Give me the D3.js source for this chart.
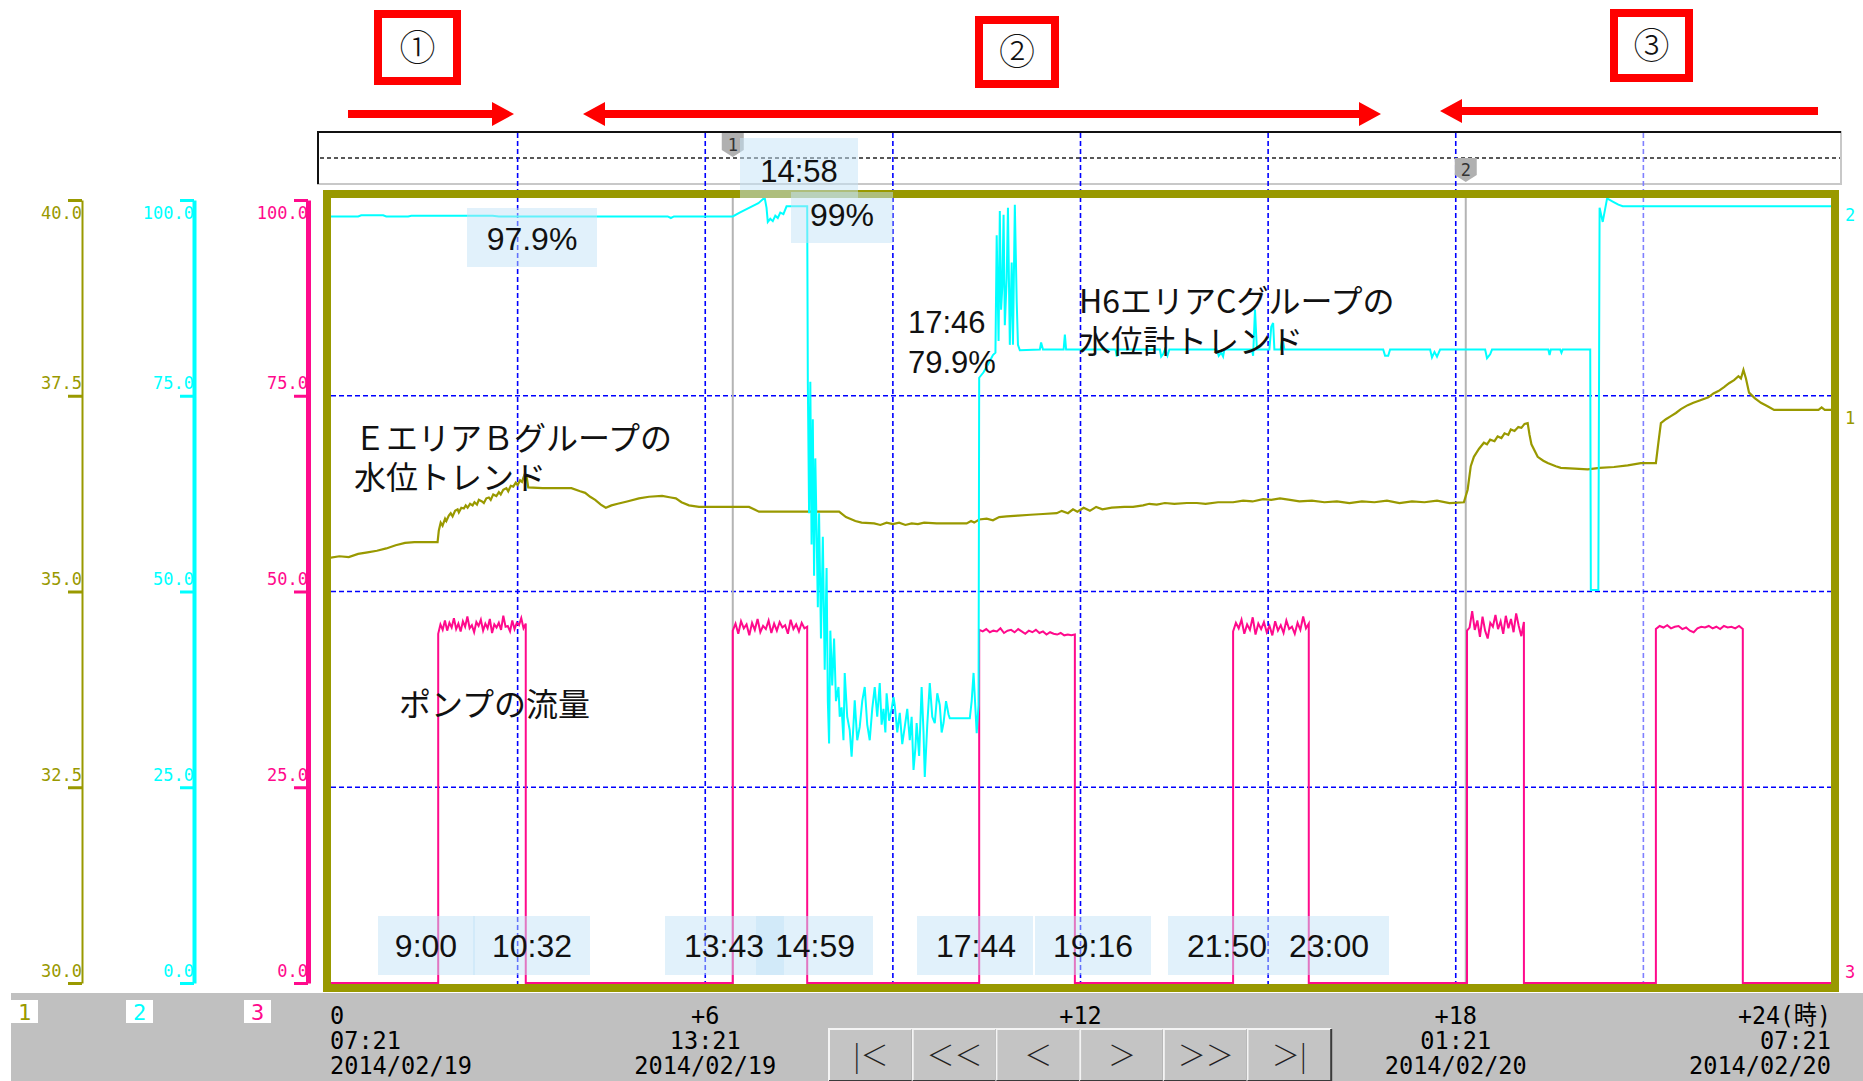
<!DOCTYPE html>
<html>
<head>
<meta charset="utf-8">
<script src="https://cdn.jsdelivr.net/npm/d3@7/dist/d3.min.js"></script>
<style>
body { margin: 0; background: #fff; }
svg { display: block; }
</style>
</head>
<body>
<div id="chart"></div>
<script>
// ---- data (hours after 07:21 on 2014/02/19) ----
var levelTicks = [30, 32.5, 35, 37.5, 40];
var pctTicks = [0, 25, 50, 75, 100];
var gridHours = [3, 6, 9, 12, 15, 18, 21];
var gridPct = [25, 50, 75];
var cursorHours = [6.44, 18.16];

// E area B group water level (left olive scale 30-40)
var levelB = [
[0,35.43],[0.15,35.45],[0.3,35.44],[0.45,35.48],[0.6,35.5],[0.75,35.52],[0.9,35.55],[1.05,35.59],[1.2,35.62],[1.35,35.63],[1.72,35.63],
[1.74,35.78],[1.77,35.88],[1.8,35.84],[1.84,35.93],[1.86,35.9],[1.9,35.97],[1.93,36.0],[1.96,35.96],[2.0,36.03],[2.04,36.05],[2.06,36.01],
[2.1,36.07],[2.14,36.06],[2.17,36.1],[2.2,36.07],[2.24,36.12],[2.28,36.1],[2.31,36.14],[2.35,36.11],[2.38,36.17],[2.43,36.15],[2.46,36.13],
[2.5,36.19],[2.54,36.2],[2.57,36.17],[2.61,36.24],[2.66,36.22],[2.7,36.27],[2.73,36.24],[2.77,36.3],[2.82,36.32],[2.85,36.28],[2.89,36.35],
[2.93,36.34],[2.97,36.39],[3.0,36.36],[3.04,36.42],[3.07,36.4],[3.1,36.47],[3.12,36.43],[3.14,36.49],[3.17,36.33],
[3.4,36.32],[3.86,36.32],[4.0,36.28],[4.08,36.26],[4.16,36.21],[4.24,36.17],[4.33,36.11],[4.41,36.07],[4.5,36.1],[4.6,36.12],[4.75,36.15],
[4.94,36.19],[5.1,36.21],[5.31,36.22],[5.45,36.2],[5.53,36.19],[5.62,36.14],[5.74,36.1],[5.9,36.08],[6.06,36.08],[6.7,36.08],[6.86,36.02],
[8.14,36.02],[8.25,35.95],[8.4,35.9],[8.5,35.88],[8.7,35.87],[8.8,35.85],[8.9,35.88],[9.0,35.86],[9.1,35.88],[9.2,35.85],[9.3,35.87],
[9.4,35.86],[9.5,35.88],[9.7,35.87],[10.18,35.87],[10.25,35.9],[10.3,35.88],[10.38,35.92],[10.5,35.93],[10.6,35.91],[10.7,35.95],[10.82,35.96],
[11.0,35.97],[11.2,35.98],[11.4,35.99],[11.62,36.0],[11.7,36.03],[11.8,36.0],[11.88,36.05],[11.95,36.02],[12.05,36.07],[12.15,36.03],
[12.25,36.08],[12.35,36.05],[12.5,36.07],[12.7,36.08],[12.84,36.08],[13.0,36.1],[13.1,36.12],[13.22,36.11],[13.35,36.13],[13.5,36.12],
[13.7,36.13],[13.86,36.13],[14.0,36.12],[14.2,36.14],[14.44,36.14],[14.6,36.16],[14.75,36.15],[14.92,36.18],[15.05,36.17],[15.19,36.19],
[15.35,36.17],[15.5,36.15],[15.7,36.16],[15.9,36.14],[16.1,36.15],[16.3,36.13],[16.5,36.15],[16.7,36.14],[16.9,36.16],[17.1,36.13],
[17.3,36.15],[17.5,36.14],[17.7,36.16],[17.9,36.13],[18.13,36.14],[18.19,36.3],[18.24,36.6],[18.29,36.72],[18.37,36.82],[18.45,36.9],
[18.5,36.88],[18.55,36.94],[18.62,36.92],[18.67,36.98],[18.73,36.96],[18.78,37.02],[18.84,37.0],[18.88,37.07],[18.94,37.05],[19.0,37.1],
[19.05,37.09],[19.1,37.14],[19.15,37.15],[19.18,37.0],[19.21,36.88],[19.31,36.72],[19.4,36.67],[19.47,36.64],[19.6,36.6],[19.68,36.58],
[19.9,36.57],[20.11,36.56],[20.3,36.58],[20.53,36.59],[20.75,36.61],[20.96,36.64],[21.2,36.64],[21.24,36.9],[21.28,37.15],[21.36,37.2],
[21.44,37.24],[21.52,37.28],[21.6,37.33],[21.71,37.38],[21.8,37.41],[21.9,37.44],[22.04,37.48],[22.12,37.53],[22.2,37.56],[22.29,37.61],
[22.37,37.66],[22.45,37.7],[22.52,37.75],[22.56,37.72],[22.6,37.83],[22.64,37.72],[22.69,37.54],[22.78,37.47],[22.88,37.41],[23.0,37.36],
[23.09,37.32],[23.8,37.32],[23.85,37.35],[23.9,37.32],[24.0,37.32]
];

// H6 area C group level meter (%)
var levelC = [
[0,97.9],[0.45,97.9],[0.5,98.05],[0.85,98.05],[0.9,97.9],[1.25,97.9],[1.3,98.0],[2.6,98.0],[2.7,97.9],[5.4,97.9],[5.45,97.7],[5.5,97.9],[6.44,97.9],
[6.55,98.4],[6.7,99.0],[6.85,99.6],[6.95,100.3],[6.98,99.0],[7.0,97.2],[7.04,97.6],[7.08,97.3],[7.12,98.0],[7.16,97.7],[7.2,98.4],[7.25,98.2],[7.3,99.2],[7.63,99.2],
[7.64,76.8],[7.66,60],[7.68,76.8],[7.7,56],[7.72,72],[7.74,52],[7.76,67],[7.78,58],[7.8,48],[7.82,60],[7.85,44],[7.88,57],[7.91,40],[7.94,53],
[7.96,36],[7.98,30.6],[8.0,45],[8.03,38],[8.06,44],[8.09,36],
[8.13,37.8],[8.15,34],[8.18,35.2],[8.21,31],[8.23,39.6],[8.27,34],[8.31,32.3],[8.34,28.9],[8.37,33],[8.39,36.1],[8.43,31],[8.47,32.7],
[8.51,36],[8.55,37.8],[8.59,33],[8.63,31.0],[8.67,35],[8.71,37.8],[8.75,34],[8.79,38.3],[8.82,33],[8.85,35.0],[8.88,32],[8.9,37.0],
[8.94,33.5],[8.98,35.0],[9.01,36.5],[9.03,35.5],[9.07,32],[9.11,34.5],[9.15,30.5],[9.19,32.7],[9.23,35],[9.27,31.0],[9.3,34],[9.33,27.2],
[9.36,30],[9.38,33.2],[9.42,29],[9.46,37.8],[9.49,32],[9.51,26.3],[9.55,33],[9.59,38.3],[9.63,34],[9.67,33.2],[9.71,37],[9.75,35.5],
[9.78,32],[9.81,33.2],[9.85,36],[9.89,34.3],[9.91,33.8],[10.23,33.8],[10.26,36],[10.29,39.6],[10.32,35],[10.34,31.9],[10.37,35.5],
[10.38,77.3],[10.45,78],[10.52,79],[10.6,80.2],[10.64,80.5],[10.66,95.5],[10.69,82],[10.71,98.6],[10.73,86],[10.75,88.9],[10.77,98.1],
[10.79,84],[10.82,90],[10.84,99.0],[10.87,81.5],[10.9,92],[10.92,81.5],[10.95,99.4],[10.98,87],[11.0,81.5],[11.03,80.8],
[11.35,80.9],[11.37,81.8],[11.4,80.9],[11.73,80.9],[11.75,82.8],[11.77,80.9],[12.56,80.9],[12.58,80.0],[12.6,80.9],[13.27,80.9],
[13.29,80.0],[13.32,80.3],[13.35,80.9],[13.39,80.1],[13.42,80.9],[14.18,80.9],[14.21,80.1],[14.25,80.5],[14.28,80.0],[14.3,80.9],
[14.74,80.9],[14.76,80.1],[14.79,86.0],[14.82,80.9],[15.02,80.9],[15.05,83.8],[15.08,84.3],[15.1,80.9],[15.2,80.9],[15.23,82.5],[15.26,80.9],
[16.84,80.9],[16.87,80.1],[16.92,80.1],[16.95,80.9],[17.59,80.9],[17.62,79.9],[17.66,80.6],[17.7,80.0],[17.75,80.9],[18.47,80.9],
[18.5,79.8],[18.55,80.3],[18.58,80.9],[19.48,80.9],[19.5,80.2],[19.52,80.9],[19.67,80.9],[19.69,80.5],[19.71,80.9],[20.15,80.9],
[20.16,50.2],[20.28,50.2],[20.3,99.0],[20.35,97.2],[20.42,100.2],[20.51,99.8],[20.6,99.4],[20.67,99.2],[24,99.2]
];

// pump flow (%): running periods and sampled levels while running
var pumpRuns = [[1.73, 3.13], [6.44, 7.63], [10.38, 11.91], [14.44, 15.65], [18.18, 19.09], [21.2, 22.59]];
var pumpLevels = [
[44.6,45.8,45.1,46.3,45.0,46.0,45.4,46.6,45.2,45.9,44.9,46.2,45.5,46.8,45.3,45.7,44.8,46.1,45.6,46.4,45.0,45.9,45.3,46.5,44.7,45.8,45.4,46.0,45.1,46.9,45.5,45.6,44.9,46.3,45.2,46.0,45.7,46.6,45.3,45.9],
[45.0,45.9,44.6,46.2,45.3,45.8,44.4,46.0,45.1,46.5,44.8,45.6,45.2,46.3,44.7,45.9,45.0,46.1,45.4,45.7,44.6,46.4,45.2,45.8,44.9,46.0,45.3,45.5],
[45.1,44.9,45.2,44.8,45.0,44.9,45.3,44.7,45.0,45.1,44.8,45.2,44.9,44.6,45.0,44.8,45.1,44.7,44.9,44.5,44.8,44.6,44.5,44.7,44.4,44.5,44.4,44.5],
[44.9,46.0,45.3,46.4,44.6,45.8,45.1,46.7,44.5,45.9,45.2,46.1,44.8,45.6,44.4,46.2,45.0,45.7,44.7,46.3,45.2,45.5,44.6,46.0,45.1,46.8,45.3,45.9],
[45.0,45.4,47.5,45.1,46.3,44.2,46.8,45.0,44.0,46.0,45.5,47.0,45.2,46.2,44.6,46.9,45.3,46.5,44.8,47.2,45.6,44.3,46.1],
[45.2,45.6,45.4,45.7,45.3,45.5,45.6,45.2,45.4,45.0,44.8,45.3,45.5,45.4,45.6,45.3,45.5,45.2,45.6,45.4,45.5,45.3,45.6,45.2]
];

var timeHours = [0, 6, 12, 18, 24];
var timeOffsets = ["0", "+6", "+12", "+18", "+24(時)"];
var timeClocks = ["07:21", "13:21", "", "01:21", "07:21"];   // +12 rows sit under the buttons
var timeDates = ["2014/02/19", "2014/02/19", "", "2014/02/20", "2014/02/20"];
var pumpTimes = ["9:00", "10:32", "13:43", "14:59", "17:44", "19:16", "21:50", "23:00"];
var navButtons = ["|＜", "＜＜", "＜", "＞", "＞＞", "＞|"];

// ---- drawing ----
var OLIVE = "#999900", CYAN = "#00ffff", PINK = "#ff0a8c", BLUE = "#0000ff";

var svg = d3.select("#chart").append("svg")
  .attr("width", 1863).attr("height", 1081);
svg.append("rect").attr("width", 1863).attr("height", 1081).attr("fill", "#fff");

var x = d3.scaleLinear().domain([0, 24]).range([330, 1831]);
var yPct = d3.scaleLinear().domain([0, 100]).range([983, 200]);
var yLvl = d3.scaleLinear().domain([30, 40]).range([983, 200]);

// left scales
function drawScale(scale, ticks, xpos, color, width) {
  var g = svg.append("g").attr("transform", "translate(" + xpos + ",0)")
    .call(d3.axisLeft(scale).tickValues(ticks).tickSize(14).tickSizeOuter(0).tickFormat(d3.format(".1f")));
  g.select(".domain").attr("stroke", color).attr("stroke-width", width);
  g.selectAll(".tick line").attr("stroke", color).attr("stroke-width", 3);
  g.selectAll(".tick text")
    .attr("x", 0).attr("dy", null)
    .attr("y", function(d) { return d === ticks[ticks.length - 1] ? 18 : -7; })
    .attr("fill", color).attr("text-anchor", "end")
    .style("font-family", "'DejaVu Sans Mono', monospace").style("font-size", "17px");
}
drawScale(yLvl, levelTicks, 82, OLIVE, 2);
drawScale(yPct, pctTicks, 194, CYAN, 4);
drawScale(yPct, pctTicks, 308, PINK, 5);

// cursor strip above the plot
svg.append("rect").attr("x", 318).attr("y", 132).attr("width", 1523).attr("height", 52)
  .attr("fill", "#fff").attr("stroke", "#c8c8c8").attr("stroke-width", 2);
svg.append("path").attr("d", "M318,184V132H1841").attr("fill", "none").attr("stroke", "#111").attr("stroke-width", 2);
svg.append("line").attr("x1", 320).attr("x2", 1840).attr("y1", 158).attr("y2", 158)
  .attr("stroke", "#222").attr("stroke-width", 1.5).attr("stroke-dasharray", "4,3");

// grid
var grid = svg.append("g");
grid.selectAll(".vg").data(gridHours).enter().append("line")
  .attr("x1", function(d) { return x(d); }).attr("x2", function(d) { return x(d); })
  .attr("y1", 133).attr("y2", 984)
  .attr("stroke", function(d) { return d === 21 ? "#8080ff" : BLUE; })
  .attr("stroke-width", 1.6).attr("stroke-dasharray", "5,3");
grid.selectAll(".hg").data(gridPct).enter().append("line")
  .attr("x1", 331).attr("x2", 1831)
  .attr("y1", function(d) { return yPct(d); }).attr("y2", function(d) { return yPct(d); })
  .attr("stroke", BLUE).attr("stroke-width", 1.6).attr("stroke-dasharray", "5,3");

// cursor lines
svg.selectAll(".cur").data(cursorHours).enter().append("line")
  .attr("x1", function(d) { return x(d); }).attr("x2", function(d) { return x(d); })
  .attr("y1", 198).attr("y2", 984).attr("stroke", "#b4b4b4").attr("stroke-width", 2);

// cursor markers
cursorHours.forEach(function(h, i) {
  var cx = x(h), top = i === 0 ? 133 : 158;
  svg.append("path")
    .attr("d", "M" + (cx - 11) + "," + top + "H" + (cx + 11) + "V" + (top + 17) + "L" + cx + "," + (top + 24) + "L" + (cx - 11) + "," + (top + 17) + "Z")
    .attr("fill", "#b0b0b0");
  svg.append("text").attr("x", cx).attr("y", top + 18).attr("text-anchor", "middle")
    .style("font-family", "'DejaVu Sans Mono', monospace").style("font-size", "17px").attr("fill", "#333")
    .text(i + 1);
});

// data lines
svg.append("clipPath").attr("id", "plotclip").append("rect")
  .attr("x", 331).attr("y", 198).attr("width", 1500).attr("height", 786);
var plot = svg.append("g").attr("clip-path", "url(#plotclip)");

var pumpSeries = [[0, 0]];
pumpRuns.forEach(function(r, i) {
  var vals = pumpLevels[i];
  pumpSeries.push([r[0], 0]);
  vals.forEach(function(v, j) {
    pumpSeries.push([r[0] + (r[1] - r[0]) * j / (vals.length - 1), v]);
  });
  pumpSeries.push([r[1], 0]);
});
pumpSeries.push([24, 0]);

var linePct = d3.line().x(function(d) { return x(d[0]); }).y(function(d) { return yPct(d[1]); });
var lineLvl = d3.line().x(function(d) { return x(d[0]); }).y(function(d) { return yLvl(d[1]); });

plot.append("path").datum(pumpSeries).attr("d", linePct)
  .attr("fill", "none").attr("stroke", PINK).attr("stroke-width", 2);
plot.append("path").datum(levelB).attr("d", lineLvl)
  .attr("fill", "none").attr("stroke", OLIVE).attr("stroke-width", 2.2);
plot.append("path").datum(levelC).attr("d", linePct)
  .attr("fill", "none").attr("stroke", CYAN).attr("stroke-width", 2);

// frame
svg.append("rect").attr("x", 327).attr("y", 194).attr("width", 1508).attr("height", 794)
  .attr("fill", "none").attr("stroke", OLIVE).attr("stroke-width", 8);

// right side pen numbers
var penLabels = [{t: "2", y: 221, c: CYAN}, {t: "1", y: 424, c: OLIVE}, {t: "3", y: 978, c: PINK}];
svg.selectAll(".pen").data(penLabels).enter().append("text")
  .attr("x", 1845).attr("y", function(d) { return d.y; })
  .attr("fill", function(d) { return d.c; })
  .style("font-family", "'DejaVu Sans Mono', monospace").style("font-size", "17px")
  .text(function(d) { return d.t; });

// bottom panel
svg.append("rect").attr("x", 11).attr("y", 993).attr("width", 1852).attr("height", 88).attr("fill", "#c0c0c0");
var legendPens = [{t: "1", x: 11, c: OLIVE}, {t: "2", x: 126, c: CYAN}, {t: "3", x: 244, c: PINK}];
legendPens.forEach(function(d) {
  svg.append("rect").attr("x", d.x).attr("y", 1000).attr("width", 27).attr("height", 23).attr("fill", "#fff");
  svg.append("text").attr("x", d.x + 13.5).attr("y", 1020).attr("text-anchor", "middle")
    .attr("fill", d.c).style("font-family", "'DejaVu Sans Mono', monospace").style("font-size", "22px").text(d.t);
});

var timeFont = "'DejaVu Sans Mono', 'Noto Sans CJK JP', monospace";
timeHours.forEach(function(h, i) {
  var anchor = i === 0 ? "start" : (i === timeHours.length - 1 ? "end" : "middle");
  var rows = [timeOffsets[i], timeClocks[i], timeDates[i]];
  rows.forEach(function(t, r) {
    if (!t) return;
    var w = (t === "+24(時)") ? 93 : t.length * 14.2;
    svg.append("text").attr("x", x(h)).attr("y", 1024 + r * 25)
      .attr("text-anchor", anchor)
      .attr("textLength", w).attr("lengthAdjust", "spacingAndGlyphs")
      .style("font-family", timeFont).style("font-size", "25px").attr("fill", "#000")
      .text(t);
  });
});

// navigation buttons
var bw = 83.7;
navButtons.forEach(function(t, i) {
  var bx = 829 + i * bw, by = 1029, bh = 52;
  svg.append("rect").attr("x", bx).attr("y", by).attr("width", bw).attr("height", bh).attr("fill", "#c4c4c4");
  svg.append("path").attr("d", "M" + bx + "," + (by + bh) + "V" + by + "H" + (bx + bw))
    .attr("fill", "none").attr("stroke", "#f4f4f4").attr("stroke-width", 2);
  svg.append("path").attr("d", "M" + (bx + bw) + "," + by + "V" + (by + bh) + "H" + bx)
    .attr("fill", "none").attr("stroke", "#3a3a3a").attr("stroke-width", 2);
  svg.append("text").attr("x", bx + bw / 2).attr("y", by + 37).attr("text-anchor", "middle")
    .style("font-family", "'Noto Sans CJK JP', sans-serif").style("font-size", "28px").style("font-weight", 300)
    .attr("fill", "#222").text(t);
});

// red section markers
var RED = "#ff0000";
var sections = [{t: "①", x: 374, y: 10, w: 87, h: 75}, {t: "②", x: 975, y: 16, w: 84, h: 72}, {t: "③", x: 1610, y: 9, w: 83, h: 73}];
sections.forEach(function(s) {
  svg.append("rect").attr("x", s.x + 4).attr("y", s.y + 4).attr("width", s.w - 8).attr("height", s.h - 8)
    .attr("fill", "#fff").attr("stroke", RED).attr("stroke-width", 8);
  svg.append("text").attr("x", s.x + s.w / 2).attr("y", s.y + s.h / 2 + 13).attr("text-anchor", "middle")
    .style("font-family", "'Noto Sans CJK JP', sans-serif").style("font-size", "36px").style("font-weight", 300)
    .attr("fill", "#111").text(s.t);
});
function arrow(x1, x2, y, headStart, headEnd) {
  var a = x1 + (headStart ? 22 : 0), b = x2 - (headEnd ? 22 : 0);
  var d = "M" + a + "," + (y - 4) + "H" + b;
  if (headEnd) d += "V" + (y - 12) + "L" + x2 + "," + y + "L" + b + "," + (y + 12) + "V" + (y + 4);
  else d += "V" + (y + 4);
  d += "H" + a;
  if (headStart) d += "V" + (y + 12) + "L" + x1 + "," + y + "L" + a + "," + (y - 12) + "Z";
  else d += "Z";
  svg.append("path").attr("d", d).attr("fill", RED);
}
arrow(348, 514, 114, false, true);
arrow(583, 1381, 114, true, true);
arrow(1440, 1818, 111, true, false);

// highlight callouts
var BOX = "#c4e3f8";
var sansNum = "'Liberation Sans', Arial, sans-serif";
var jp = "'Noto Sans CJK JP', sans-serif";
function callout(bx, by, bw, bh) {
  svg.append("rect").attr("x", bx).attr("y", by).attr("width", bw).attr("height", bh)
    .attr("fill", BOX).attr("fill-opacity", 0.5);
}
function label(t, lx, ly, anchor, size, font) {
  svg.append("text").attr("x", lx).attr("y", ly).attr("text-anchor", anchor || "start")
    .style("font-family", font || sansNum).style("font-size", (size || 31) + "px").attr("fill", "#111").text(t);
}
callout(740, 138, 118, 60); label("14:58", 799, 182, "middle", 31);
callout(467, 208, 130, 59); label("97.9%", 532, 250, "middle", 32);
callout(791, 192, 102, 51); label("99%", 810, 226, "start", 32);
label("17:46", 908, 333, "start", 31);
label("79.9%", 908, 373, "start", 31);

label("H6エリアCグループの", 1079, 313, "start", 32, jp);
label("水位計トレンド", 1079, 353, "start", 32, jp);
label("ＥエリアＢグループの", 354, 450, "start", 32, jp);
label("水位トレンド", 354, 489, "start", 32, jp);
label("ポンプの流量", 399, 716, "start", 32, jp);

var pumpBoxes = [[378, 97], [473, 117], [665, 119], [756, 117], [917, 116], [1035, 116], [1168, 120], [1288, 101]];
var pumpCenters = [426, 532, 724, 815, 976, 1093, 1227, 1329];
pumpTimes.forEach(function(t, i) {
  callout(pumpBoxes[i][0], 916, pumpBoxes[i][1], 59);
});
pumpTimes.forEach(function(t, i) {
  label(t, pumpCenters[i], 957, "middle", 32);
});
</script>
</body>
</html>
